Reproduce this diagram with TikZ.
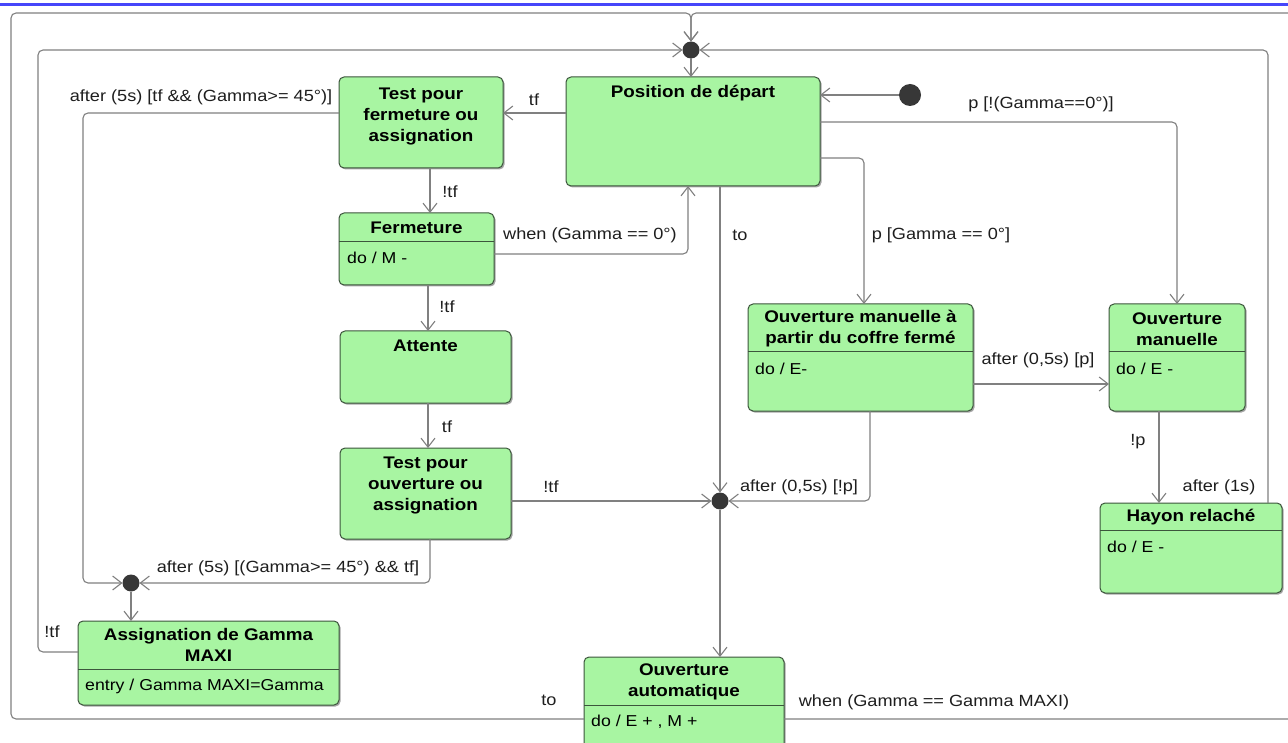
\documentclass[tikz,border=0pt]{standalone}
\usepackage{fontspec}
\setmainfont{Liberation Sans}[FakeStretch=1.12]
\usetikzlibrary{arrows.meta,shadows}
\definecolor{statefill}{RGB}{168,245,162}
\definecolor{stateborder}{RGB}{60,85,60}
\definecolor{linecol}{RGB}{128,128,128}
\definecolor{juncfill}{RGB}{55,55,55}
\definecolor{labeltext}{RGB}{30,30,30}
\definecolor{topblue}{RGB}{70,70,250}
\newcommand\ttlfont{\bfseries\fontsize{16.8}{21}\selectfont}
\newcommand\bdyfont{\fontsize{15.8}{19}\selectfont}
\newcommand\lblfont{\fontsize{16.2}{19}\selectfont}
\tikzset{
  state/.style={draw=stateborder, fill=statefill, rounded corners=5pt, line width=1pt,
    outer sep=0pt, inner sep=0pt,
    drop shadow={shadow xshift=1.5pt, shadow yshift=-1.5pt, opacity=0.35, fill=black}},
  ttl/.style={font=\ttlfont, align=center, inner sep=0pt, text=black},
  body/.style={font=\bdyfont, anchor=west, inner sep=0pt, text=black},
  lbl/.style={font=\lblfont, inner sep=0pt, text=labeltext},
  tr/.style={draw=linecol, line width=1.1pt, rounded corners=5pt,
    -{Straight Barb[length=9pt,width=14pt,line width=1.1pt]}},
  junc/.style={circle, fill=juncfill, minimum size=17pt, inner sep=0pt, outer sep=0pt},
  divider/.style={draw=stateborder, line width=1pt},
}
\begin{document}
\begin{tikzpicture}[x=1pt,y=-1pt]
\useasboundingbox (0,0) rectangle (1288,743);
\fill[white] (0,0) rectangle (1288,743);
\clip (0,0) rectangle (1288,743);
\draw[topblue, line width=3pt] (0,4.5) -- (1288,4.5);

% states
\node[state, minimum width=254pt, minimum height=109pt] (PD) at (693,131.5) {};
\node[ttl] (PDt) at (693,93) {Position de départ};

\node[state, minimum width=164pt, minimum height=91pt] (TF) at (421,122.5) {};
\node[ttl] (TFt) at (421,117) {Test pour\\fermeture ou\\assignation};

\node[state, minimum width=155pt, minimum height=72pt] (FE) at (416.5,249) {};
\node[ttl] (FEt) at (416.5,228) {Fermeture};
\draw[divider] (FE.west |- 0,242) -- (FE.east |- 0,242);
\node[body] (FEb) at (347,258) {do / M -};

\node[state, minimum width=171pt, minimum height=72pt] (AT) at (425.5,367) {};
\node[ttl] (ATt) at (425.5,346) {Attente};

\node[state, minimum width=171pt, minimum height=91pt] (TO) at (425.5,493.5) {};
\node[ttl] (TOt) at (425.5,485) {Test pour\\ouverture ou\\assignation};

\node[state, minimum width=261pt, minimum height=84pt] (AS) at (208.5,663) {};
\node[ttl] (ASt) at (208.5,645) {Assignation de Gamma\\MAXI};
\draw[divider] (AS.west |- 0,669) -- (AS.east |- 0,669);
\node[body] (ASb) at (85,686) {entry / Gamma MAXI=Gamma};

\node[state, minimum width=200pt, minimum height=113pt] (OA) at (684,713.5) {};
\node[ttl] (OAt) at (684,682) {Ouverture\\automatique};
\draw[divider] (OA.west |- 0,705) -- (OA.east |- 0,705);
\node[body] (OAb) at (591,722) {do / E + , M +};

\node[state, minimum width=225pt, minimum height=107pt] (OP) at (860.5,357.5) {};
\node[ttl] (OPt) at (860.5,329) {Ouverture manuelle à\\partir du coffre fermé};
\draw[divider] (OP.west |- 0,352) -- (OP.east |- 0,352);
\node[body] (OPb) at (755,369) {do / E-};

\node[state, minimum width=136pt, minimum height=107pt] (OM) at (1177,357.5) {};
\node[ttl] (OMt) at (1177,329) {Ouverture\\manuelle};
\draw[divider] (OM.west |- 0,352) -- (OM.east |- 0,352);
\node[body] (OMb) at (1116,369) {do / E -};

\node[state, minimum width=182pt, minimum height=90pt] (HR) at (1191,548) {};
\node[ttl] (HRt) at (1191,517) {Hayon relaché};
\draw[divider] (HR.west |- 0,530) -- (HR.east |- 0,530);
\node[body] (HRb) at (1107,547) {do / E -};

% pseudo states
\node[circle, fill=juncfill, minimum size=22pt, inner sep=0pt, outer sep=0pt] (init) at (910,95) {};
\node[junc] (J1) at (691,50) {};
\node[junc] (J2) at (720,501) {};
\node[junc] (J3) at (131,583) {};

% transitions
\draw[tr] (init.west) -- (PD.east |- init);
\draw[tr] (J1.south) -- (PD.north -| J1);
\draw[tr] (PD.west |- 0,113) -- (TF.east |- 0,113);
\draw[tr] (TF.south -| 430,0) -- (FE.north -| 430,0);
\draw[tr] (FE.east |- 0,254) -| (PD.south -| 688,0);
\draw[tr] (FE.south -| 428,0) -- (AT.north -| 428,0);
\draw[tr] (AT.south -| 428,0) -- (TO.north -| 428,0);
\draw[tr] (TO.east |- J2) -- (J2.west);
\draw[tr] (PD.south -| J2) -- (J2.north);
\draw[tr] (PD.east |- 0,158) -| (OP.north -| 864,0);
\draw[tr] (PD.east |- 0,122) -| (OM.north);
\draw[tr] (OP.east |- 0,384) -- (OM.west |- 0,384);
\draw[tr] (OP.south -| 870,0) |- (J2.east);
\draw[tr] (OM.south -| 1159,0) -- (HR.north -| 1159,0);
\draw[tr] (HR.north -| 1268,0) |- (J1.east);
\draw[tr] (TF.west |- 0,113) -- (83,113) -- (83,583) -- (J3.west);
\draw[tr] (TO.south -| 430,0) |- (J3.east);
\draw[tr] (J3.south) -- (AS.north -| J3);
\draw[tr] (AS.west |- 0,652) -- (38,652) -- (38,50) -- (J1.west);
\draw[tr] (J2.south) -- (OA.north -| J2);
\draw[tr] (OA.west |- 0,719) -- (11,719) -- (11,13) -- (691,13) -- (J1.north);
\draw[tr] (OA.east |- 0,719) -- (1300,719) -- (1300,13) -- (691,13) -- (J1.north);

% labels
\node[lbl] (l1) at (534,100) {tf};
\node[lbl] (l2) at (450,192) {!tf};
\node[lbl, anchor=east] (l3) at (677,235) {when (Gamma == 0°)};
\node[lbl] (l4) at (447,307) {!tf};
\node[lbl] (l5) at (447,427) {tf};
\node[lbl] (l6) at (551,487) {!tf};
\node[lbl] (l7) at (740,235) {to};
\node[lbl] (l8) at (941,235) {p [Gamma == 0°]};
\node[lbl] (l9) at (1041,104) {p [!(Gamma==0°)]};
\node[lbl] (l10) at (1038,360) {after (0,5s) [p]};
\node[lbl] (l11) at (799,487) {after (0,5s) [!p]};
\node[lbl] (l12) at (1138,442) {!p};
\node[lbl] (l13) at (1219,487) {after (1s)};
\node[lbl] (l14) at (201,97) {after (5s) [tf \&\& (Gamma>= 45°)]};
\node[lbl] (l15) at (288,568) {after (5s) [(Gamma>= 45°) \&\& tf]};
\node[lbl] (l16) at (52,632) {!tf};
\node[lbl] (l17) at (549,700) {to};
\node[lbl] (l18) at (934,702) {when (Gamma == Gamma MAXI)};
\end{tikzpicture}
\end{document}
